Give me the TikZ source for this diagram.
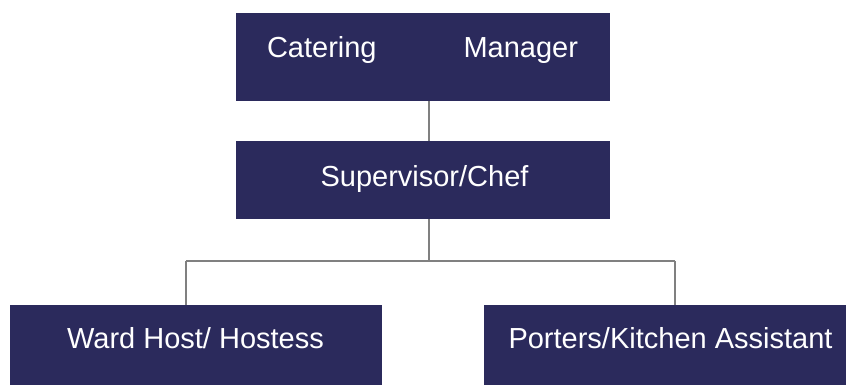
\documentclass[tikz,border=0pt]{standalone}
\usepackage{fontspec}
\setmainfont{Liberation Sans}
\definecolor{boxnavy}{RGB}{43,42,92}
\definecolor{linegray}{RGB}{128,128,128}
\begin{document}
\begin{tikzpicture}[x=1pt,y=-1pt,
  orgbox/.style={fill=boxnavy,draw=none,rectangle,inner sep=0pt,anchor=north west},
  orgtext/.style={text=white,anchor=base,inner sep=0pt,font=\fontsize{29}{34}\selectfont},
  conn/.style={draw=linegray,line width=1.6pt}]
\useasboundingbox (0,0) rectangle (846,385);
\node[orgbox,minimum width=374pt,minimum height=88pt] (mgr) at (236,13) {};
\node[orgbox,minimum width=374pt,minimum height=78pt] (sup) at (236,141) {};
\node[orgbox,minimum width=372pt,minimum height=80pt] (ward) at (10,305) {};
\node[orgbox,minimum width=362pt,minimum height=80pt] (port) at (484,305) {};
\node[orgtext] (mgrt) at (422.5,58) {\makebox[311pt]{Catering\hfill Manager}};
\node[orgtext] (supt) at (424.5,186.5) {Supervisor/Chef};
\node[orgtext] (wardt) at (195.5,348.5) {Ward Host/ Hostess};
\node[orgtext] (portt) at (670.5,348.5) {Porters/Kitchen Assistant};
\coordinate (jc) at (429,261);
\coordinate (jl) at (186,261);
\coordinate (jr) at (675,261);
\draw[conn] (mgr.south -| jc) -- (sup.north -| jc);
\draw[conn] (sup.south -| jc) -- (jc);
\draw[conn] (jl) -- (jr);
\draw[conn] (jl) -- (ward.north -| jl);
\draw[conn] (jr) -- (port.north -| jr);
\end{tikzpicture}
\end{document}
